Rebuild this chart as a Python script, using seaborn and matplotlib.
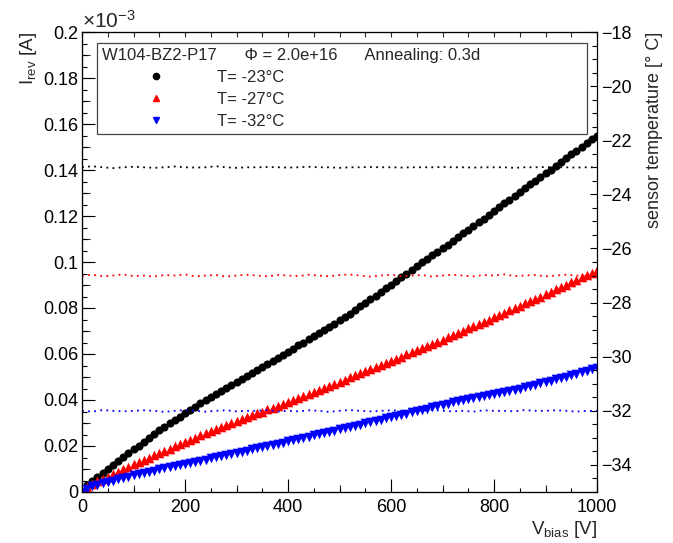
import matplotlib
matplotlib.use("Agg")
import matplotlib.pyplot as plt
import seaborn as sns
import pandas as pd
from matplotlib.ticker import MultipleLocator, FuncFormatter, NullFormatter
from matplotlib.lines import Line2D

# ---------------- data ----------------
voltage = list(range(0, 1001, 10))          # V_bias [V]
# reverse current in units of 1e-3 A
i_m23 = [0.0000, 0.0030, 0.0048, 0.0064, 0.0083, 0.0100, 0.0117, 0.0134, 0.0152, 0.0169,
         0.0186, 0.0202, 0.0219, 0.0235, 0.0252, 0.0268, 0.0283, 0.0298, 0.0313, 0.0328,
         0.0343, 0.0357, 0.0371, 0.0385, 0.0398, 0.0412, 0.0425, 0.0439, 0.0452, 0.0466,
         0.0479, 0.0492, 0.0505, 0.0519, 0.0532, 0.0545, 0.0558, 0.0571, 0.0584, 0.0597,
         0.0610, 0.0623, 0.0637, 0.0650, 0.0664, 0.0677, 0.0691, 0.0705, 0.0718, 0.0732,
         0.0746, 0.0761, 0.0776, 0.0792, 0.0807, 0.0822, 0.0838, 0.0854, 0.0870, 0.0886,
         0.0902, 0.0918, 0.0934, 0.0950, 0.0966, 0.0982, 0.0998, 0.1013, 0.1029, 0.1044,
         0.1060, 0.1076, 0.1092, 0.1108, 0.1124, 0.1140, 0.1156, 0.1173, 0.1189, 0.1206,
         0.1222, 0.1238, 0.1255, 0.1271, 0.1288, 0.1304, 0.1320, 0.1337, 0.1353, 0.1370,
         0.1386, 0.1402, 0.1419, 0.1435, 0.1452, 0.1468, 0.1484, 0.1501, 0.1517, 0.1534,
         0.1550]
i_m27 = [0.0000, 0.0022, 0.0035, 0.0046, 0.0056, 0.0066, 0.0077, 0.0088, 0.0098, 0.0109,
         0.0120, 0.0130, 0.0140, 0.0150, 0.0160, 0.0170, 0.0180, 0.0189, 0.0199, 0.0208,
         0.0218, 0.0227, 0.0236, 0.0246, 0.0255, 0.0264, 0.0273, 0.0282, 0.0290, 0.0299,
         0.0308, 0.0316, 0.0325, 0.0333, 0.0342, 0.0350, 0.0359, 0.0367, 0.0376, 0.0384,
         0.0393, 0.0402, 0.0410, 0.0419, 0.0427, 0.0436, 0.0445, 0.0454, 0.0462, 0.0471,
         0.0480, 0.0489, 0.0498, 0.0507, 0.0516, 0.0525, 0.0534, 0.0543, 0.0552, 0.0561,
         0.0570, 0.0579, 0.0588, 0.0598, 0.0607, 0.0616, 0.0625, 0.0635, 0.0644, 0.0654,
         0.0663, 0.0673, 0.0682, 0.0692, 0.0701, 0.0711, 0.0721, 0.0731, 0.0740, 0.0750,
         0.0760, 0.0770, 0.0780, 0.0790, 0.0800, 0.0810, 0.0820, 0.0830, 0.0840, 0.0850,
         0.0860, 0.0870, 0.0881, 0.0891, 0.0902, 0.0912, 0.0923, 0.0933, 0.0944, 0.0954,
         0.0965]
i_m32 = [0.0000, 0.0015, 0.0024, 0.0032, 0.0039, 0.0045, 0.0050, 0.0056, 0.0061, 0.0067,
         0.0072, 0.0077, 0.0082, 0.0088, 0.0093, 0.0098, 0.0103, 0.0108, 0.0112, 0.0117,
         0.0122, 0.0127, 0.0132, 0.0136, 0.0141, 0.0146, 0.0151, 0.0156, 0.0160, 0.0165,
         0.0170, 0.0175, 0.0180, 0.0185, 0.0190, 0.0195, 0.0200, 0.0205, 0.0210, 0.0215,
         0.0220, 0.0225, 0.0230, 0.0236, 0.0241, 0.0246, 0.0251, 0.0256, 0.0262, 0.0267,
         0.0272, 0.0277, 0.0282, 0.0288, 0.0293, 0.0298, 0.0303, 0.0309, 0.0314, 0.0320,
         0.0325, 0.0330, 0.0336, 0.0341, 0.0347, 0.0352, 0.0357, 0.0363, 0.0368, 0.0374,
         0.0379, 0.0384, 0.0390, 0.0395, 0.0401, 0.0406, 0.0410, 0.0414, 0.0418, 0.0421,
         0.0425, 0.0430, 0.0435, 0.0440, 0.0445, 0.0450, 0.0456, 0.0461, 0.0467, 0.0472,
         0.0478, 0.0484, 0.0490, 0.0496, 0.0502, 0.0508, 0.0515, 0.0521, 0.0528, 0.0534,
         0.0541]

temp_voltage = list(range(0, 1001, 20))     # V_bias for temperature readings
t_m23 = [-23.00, -22.96, -23.00, -23.03, -23.00, -22.98, -23.00, -23.02, -23.00, -22.97,
         -23.00, -23.01, -23.00, -22.96, -23.00, -23.02, -23.00, -23.00, -22.99, -23.00,
         -23.01, -23.00, -22.98, -23.00, -23.00, -23.02, -23.00, -23.00, -22.99, -23.00,
         -23.00, -23.01, -23.00, -23.00, -23.00, -22.99, -23.00, -23.00, -23.01, -23.00,
         -23.00, -23.00, -23.02, -23.00, -23.00, -22.99, -23.00, -23.00, -23.01, -23.00,
         -23.00]
t_m27 = [-27.00, -26.97, -27.03, -27.00, -26.96, -27.02, -27.00, -27.04, -26.98, -27.00,
         -26.96, -27.03, -27.00, -26.98, -27.04, -27.00, -26.97, -27.00, -27.03, -26.98,
         -27.00, -27.02, -26.97, -27.00, -27.03, -26.98, -26.96, -27.00, -27.04, -27.00,
         -26.97, -27.02, -27.00, -26.98, -27.04, -27.00, -26.97, -27.00, -27.03, -26.98,
         -27.00, -26.96, -27.02, -27.00, -26.98, -27.03, -27.00, -26.97, -27.00, -27.02,
         -27.00]
t_m32 = [-32.00, -32.03, -31.97, -32.00, -32.02, -32.00, -31.98, -32.00, -32.04, -32.00,
         -31.97, -32.00, -32.03, -32.00, -31.98, -32.02, -32.00, -32.00, -31.97, -32.03,
         -32.00, -32.02, -31.98, -32.00, -32.04, -32.00, -31.97, -32.00, -32.02, -32.00,
         -31.98, -32.00, -32.03, -32.00, -31.97, -32.00, -32.02, -32.00, -32.03, -31.98,
         -32.00, -32.00, -32.02, -31.97, -32.00, -32.00, -31.98, -32.00, -32.03, -32.00,
         -32.00]

series_labels = ["T= -23°C", "T= -27°C", "T= -32°C"]
series_colors = ["black", "red", "blue"]
series_markers = ["o", "^", "v"]
header_text = "W104-BZ2-P17      Φ = 2.0e+16      Annealing: 0.3d"

# ---------------- style ----------------
sns.set_theme(style="ticks")
plt.rcParams["font.family"] = ["Liberation Sans", "DejaVu Sans"]
plt.rcParams["mathtext.fontset"] = "custom"
plt.rcParams["mathtext.rm"] = "Liberation Sans"
plt.rcParams["mathtext.it"] = "Liberation Sans:italic"
plt.rcParams["axes.linewidth"] = 0.8
plt.rcParams["axes.edgecolor"] = "black"

PX = 0.72  # points per pixel at 100 dpi
fig = plt.figure(figsize=(6.73, 5.43), dpi=100)
ax = fig.add_axes([82 / 673, 51 / 543, 515 / 673, 460 / 543])
ax2 = ax.twinx()

iv_frames = [
    pd.DataFrame({"V": voltage, "I": cur}) for cur in (i_m23, i_m27, i_m32)
]
t_frames = [
    pd.DataFrame({"V": temp_voltage, "T": t}) for t in (t_m23, t_m27, t_m32)
]

sizes = [34, 48, 48]
for df, col, mk, s in zip(iv_frames, series_colors, series_markers, sizes):
    sns.scatterplot(data=df, x="V", y="I", color=col, marker=mk, s=s,
                    linewidth=0, legend=False, ax=ax, zorder=3)

for df, col in zip(t_frames, series_colors):
    sns.lineplot(data=df, x="V", y="T", color=col, linewidth=1.3,
                 linestyle=(0, (1, 2.4)), legend=False, ax=ax2)

# ---------------- axes ----------------
ax.set_xlim(0, 1000)
ax.set_ylim(0, 0.2)
ax2.set_ylim(-35, -18)

ax.xaxis.set_major_locator(MultipleLocator(200))
ax.xaxis.set_minor_locator(MultipleLocator(50))
ax.yaxis.set_major_locator(MultipleLocator(0.02))
ax.yaxis.set_minor_locator(MultipleLocator(0.005))
ax.yaxis.set_major_formatter(
    FuncFormatter(lambda v, p: ("%.2f" % v).rstrip("0").rstrip(".") if abs(v) > 1e-9 else "0"))
ax2.yaxis.set_major_locator(MultipleLocator(2))
ax2.yaxis.set_minor_locator(MultipleLocator(0.5))

ax.tick_params(axis="both", which="both", direction="in", colors="black",
               labelsize=13, width=0.8, top=False, right=False)
ax.tick_params(axis="y", which="major", length=13 * PX, pad=2.5)
ax.tick_params(axis="y", which="minor", length=5 * PX)
ax.tick_params(axis="x", which="major", length=13 * PX, pad=5)
ax.tick_params(axis="x", which="minor", length=4.5 * PX)
ax2.tick_params(axis="y", which="both", direction="in", labelsize=13,
                width=0.8, colors="black", pad=3)
ax2.tick_params(axis="y", which="major", length=7.5 * PX)
ax2.tick_params(axis="y", which="minor", length=5 * PX)

# medium ROOT-style ticks
sec_y = ax.secondary_yaxis("left")
sec_y.yaxis.set_major_locator(MultipleLocator(0.01))
sec_y.yaxis.set_major_formatter(NullFormatter())
sec_y.tick_params(direction="in", length=8 * PX, width=0.8)
sec_x = ax.secondary_xaxis("bottom")
sec_x.xaxis.set_major_locator(MultipleLocator(100))
sec_x.xaxis.set_major_formatter(NullFormatter())
sec_x.tick_params(direction="in", length=7.5 * PX, width=0.8)
top_x = ax.secondary_xaxis("top")
top_x.xaxis.set_major_locator(MultipleLocator(50))
top_x.xaxis.set_major_formatter(NullFormatter())
top_x.tick_params(direction="in", length=5 * PX, width=0.8)

ax.set_xlabel(r"V$_{\rm bias}$ [V]", loc="right", fontsize=13.5, labelpad=2)
ax.set_ylabel(r"I$_{\rm rev}$ [A]", loc="top", fontsize=13.5, labelpad=3)
ax2.set_ylabel("sensor temperature [° C]", loc="top", fontsize=13, labelpad=10)
ax.text(0.0, 1.0, r"$\times$10$^{-3}$", transform=ax.transAxes,
        ha="left", va="bottom", fontsize=15)

for sp in list(ax.spines.values()) + list(ax2.spines.values()):
    sp.set_linewidth(0.8)
    sp.set_color("black")

# ---------------- legend ----------------
handles = [Line2D([], [], linestyle="none", marker=m, color=c, markersize=ms)
           for m, c, ms in zip(series_markers, series_colors, [4.5, 5, 5])]
leg = ax2.legend(handles, series_labels, title=header_text,
                 loc="upper left", bbox_to_anchor=(0.029, 0.789, 0.952, 0.187),
                 mode="expand", borderaxespad=0, handlelength=6.5,
                 handletextpad=0.4, labelspacing=0.42, borderpad=0.3,
                 frameon=True, fancybox=False, alignment="left",
                 fontsize=12, title_fontsize=12)
leg.get_frame().set_edgecolor("#444444")
leg.get_frame().set_linewidth(0.9)
leg.get_frame().set_alpha(1)

fig.savefig("out.png", dpi=100)
